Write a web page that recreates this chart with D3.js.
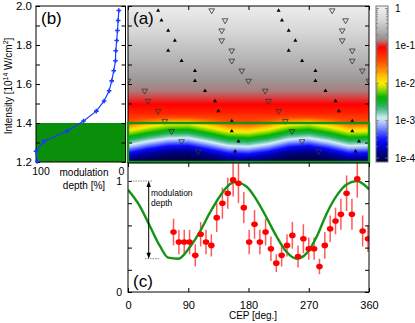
<!DOCTYPE html>
<html>
<head>
<meta charset="utf-8">
<script src="https://cdn.jsdelivr.net/npm/d3@7"></script>
<style>
  body { margin: 0; background: #fff; }
  svg { display: block; font-family: "Liberation Sans", Arial, sans-serif; }
</style>
</head>
<body>
<svg width="415" height="323"></svg>
<script>
// ---- axis ticks / labels ----
const cepTicks = [0, 90, 180, 270, 360];
const intensityTicks = [1.2, 1.3, 1.4, 1.5, 1.6, 1.7, 1.8, 1.9, 2.0];
const intensityLabels = [1.2, 1.4, 1.6, 1.8, 2.0];
const modTicks = [0, 0.2, 0.4, 0.6, 0.8, 1.0];
const modLabels = [0, 1];
const depthLabels = [100, 0];
const cbDecades = [-4, -3, -2, -1, 0];
const cbLabels = ["1e-4", "1e-3", "1e-2", "1e-1", "1"];

// ---- panel (b): modulation depth vs intensity ----
const scanIntensity = [1.203, 1.255, 1.306, 1.358, 1.410, 1.461, 1.513, 1.565, 1.616, 1.668, 1.719, 1.771, 1.823, 1.874, 1.926, 1.977];
const modDepth = [98.5, 100, 91.0, 65.5, 46.9, 32.6, 23.9, 18.3, 15.4, 13.1, 11.2, 10.9, 9.8, 9.0, 8.2, 7.5];

// ---- panel (a): peak positions (CEP, repeated every 180 deg) ----
const peakIntensity = [1.977, 1.926, 1.874, 1.823, 1.771, 1.719, 1.668, 1.616, 1.565, 1.513, 1.461, 1.410, 1.358, 1.306, 1.255];
const peakUpCep = [45, 50, 60, 70, 60, 80, 100, 100, 115, 130, 135, 155, 155, 165, 160];
const peakDownCep = [125, 145, 140, 140, 155, 155, 170, 180, 205, 210, 225, 235, 245, 260, 285];

// ---- panel (a): yield map (log10), profile along intensity + CEP shift ----
const heatIntensity = [1.20, 1.22, 1.24, 1.26, 1.28, 1.30, 1.32, 1.34, 1.36, 1.38, 1.40, 1.42, 1.45, 1.50, 1.55, 1.60, 1.65, 1.70, 1.75, 1.80, 1.85, 1.90, 1.95, 2.00];
const heatLog = [-4.05, -3.95, -3.8, -3.55, -3.25, -2.95, -2.68, -2.42, -2.2, -1.95, -1.65, -1.42, -1.2, -1.02, -0.9, -0.8, -0.71, -0.62, -0.53, -0.44, -0.34, -0.23, -0.12, -0.02];
const shiftCep = [0, 30, 60, 90, 120, 150, 180, 210, 240, 270, 300, 330, 360];
const heatShift = [0.015, -0.005, -0.020, -0.022, -0.003, 0.018, 0.022, 0.008, -0.015, -0.022, -0.005, 0.018, 0.015];
// the CEP modulation is only visible inside the green box
const shiftWeightIntensity = [1.2, 1.40, 1.44, 2.0];
const shiftWeight = [1, 1, 0, 0];

// colour map (log10 yield)
const cbLog = [-4.1, -3.79, -3.52, -3.3, -3.09, -2.93, -2.77, -2.58, -2.37, -2.18, -2.02, -1.86, -1.65, -1.38, -1.03, -0.95, -0.86, -0.76, -0.58, -0.31, 0, 0.1];
const cbColor = ["#00003c", "#0000a8", "#0a0aff", "#5064ff", "#a8b8ff", "#d4f0f0", "#70c8b0", "#20b050", "#00b400", "#90d800", "#f4f000", "#ffd000", "#ff9000", "#ff4400", "#ff0000", "#d84040", "#a88080", "#9c9898", "#b4b4b4", "#d6d6d6", "#eeeeee", "#f4f4f4"];

// ---- panel (c): measured modulation + calculation ----
const dataCep = [68, 76, 84, 92, 100.5, 108.5, 116.5, 124.5, 132.5, 141, 149, 157, 165, 173, 181, 189, 197, 205.5, 213.5, 221.5, 229.5, 237.5, 245.5, 254, 262, 270, 278, 286, 294, 302, 310, 318, 326.5, 334.5, 342.5, 350.5, 358.5];
const dataVal = [0.54, 0.45, 0.45, 0.45, 0.33, 0.52, 0.45, 0.42, 0.67, 0.80, 0.89, 1.01, 0.98, 0.76, 0.45, 0.61, 0.45, 0.54, 0.39, 0.26, 0.33, 0.42, 0.51, 0.32, 0.48, 0.39, 0.39, 0.23, 0.42, 0.57, 0.64, 0.70, 0.89, 0.70, 1.02, 0.55, 0.48];
const dataErr = [0.12, 0.11, 0.11, 0.11, 0.10, 0.11, 0.11, 0.10, 0.13, 0.14, 0.14, 0.15, 0.18, 0.14, 0.11, 0.13, 0.11, 0.12, 0.11, 0.08, 0.10, 0.10, 0.12, 0.10, 0.13, 0.10, 0.10, 0.07, 0.12, 0.12, 0.12, 0.14, 0.16, 0.14, 0.17, 0.14, 0.12];
const fitCep = [0, 18, 33, 48, 60, 75, 93, 107, 122, 137, 152, 160, 177, 192, 207, 222, 237, 252, 267, 282, 297, 312, 327, 342, 360];
const fitVal = [0.92, 0.77, 0.59, 0.41, 0.31, 0.30, 0.41, 0.54, 0.71, 0.86, 0.97, 0.99, 0.95, 0.83, 0.67, 0.50, 0.36, 0.30, 0.35, 0.50, 0.71, 0.87, 0.97, 1.00, 0.925];

const svg = d3.select("svg");
const green = "#149414";

// scales
const xCep = d3.scaleLinear().domain([0, 360]).range([128, 369]);
const yInt = d3.scaleLinear().domain([1.2, 2.0]).range([162, 6]);
const xDepth = d3.scaleLinear().domain([100, 0]).range([36, 125.5]);
const yMod = d3.scaleLinear().domain([0, 1]).range([292, 181]);
const cbY = d3.scaleLinear().domain([-4, 0]).range([158, 8.5]);
const colorOf = d3.scaleLinear().domain(cbLog).range(cbColor).interpolate(d3.interpolateRgb).clamp(true);

function tickAxis(axis, x, y) {
  const g = svg.append("g").attr("transform", `translate(${x},${y})`).call(axis);
  g.select(".domain").remove();
  g.attr("font-family", null).attr("font-size", 11);
  g.selectAll("text").attr("fill", "#000");
  return g;
}

// ================= panel (a) heat map =================
const hx = 128, hy = 6, hw = 241, hh = 156;
const canvas = document.createElement("canvas");
canvas.width = hw; canvas.height = hh;
const ctx = canvas.getContext("2d");
const img = ctx.createImageData(hw, hh);
const shiftAt = d3.scaleLinear().domain(shiftCep).range(heatShift);
const weightAt = d3.scaleLinear().domain(shiftWeightIntensity).range(shiftWeight).clamp(true);
const logAt = d3.scaleLinear().domain(heatIntensity).range(heatLog).clamp(true);
for (let py = 0; py < hh; py++) {
  const inten = yInt.invert(hy + py + 0.5);
  const w = weightAt(inten);
  for (let px = 0; px < hw; px++) {
    const cep = xCep.invert(hx + px + 0.5);
    const c = d3.rgb(colorOf(logAt(inten + w * shiftAt(cep))));
    const k = (py * hw + px) * 4;
    img.data[k] = c.r; img.data[k + 1] = c.g; img.data[k + 2] = c.b; img.data[k + 3] = 255;
  }
}
ctx.putImageData(img, 0, 0);
svg.append("image")
  .attr("x", hx).attr("y", hy).attr("width", hw).attr("height", hh)
  .attr("preserveAspectRatio", "none")
  .attr("href", canvas.toDataURL());

// peak markers
const upSym = d3.symbol().type(d3.symbolTriangle).size(7)();
const downSym = d3.symbol().type(d3.symbolTriangle).size(14)();
const peaksUp = [], peaksDown = [];
peakIntensity.forEach((inten, i) => {
  [peakUpCep[i], peakUpCep[i] + 180, peakUpCep[i] - 180]
    .filter(c => c >= 0 && c <= 360).forEach(c => peaksUp.push([c, inten]));
  [peakDownCep[i], peakDownCep[i] + 180, peakDownCep[i] - 180]
    .filter(c => c >= 0 && c <= 360).forEach(c => peaksDown.push([c, inten]));
});
svg.append("clipPath").attr("id", "aclip")
  .append("rect").attr("x", hx).attr("y", hy).attr("width", hw).attr("height", hh);
const aMarks = svg.append("g").attr("clip-path", "url(#aclip)");
aMarks.selectAll(".up").data(peaksUp).enter().append("path")
  .attr("d", upSym)
  .attr("transform", d => `translate(${xCep(d[0])},${yInt(d[1])})`)
  .attr("fill", "#000");
aMarks.selectAll(".down").data(peaksDown).enter().append("path")
  .attr("d", downSym)
  .attr("transform", d => `translate(${xCep(d[0])},${yInt(d[1])}) rotate(180)`)
  .attr("fill", "none").attr("stroke", "#333").attr("stroke-width", 0.8);

svg.append("rect").attr("x", hx).attr("y", hy).attr("width", hw).attr("height", hh)
  .attr("fill", "none").attr("stroke", "#000");
tickAxis(d3.axisLeft(yInt).tickValues(intensityTicks).tickSizeInner(-4).tickSizeOuter(0).tickFormat(""), hx, 0);
tickAxis(d3.axisRight(yInt).tickValues(intensityTicks).tickSizeInner(-4).tickSizeOuter(0).tickFormat(""), hx + hw, 0);
tickAxis(d3.axisTop(xCep).tickValues(cepTicks).tickSizeInner(-4).tickSizeOuter(0).tickFormat(""), 0, hy);
tickAxis(d3.axisBottom(xCep).tickValues(cepTicks).tickSizeInner(-4).tickSizeOuter(0).tickFormat(""), 0, hy + hh);

// green box (intensity range of panel b fill)
svg.append("rect")
  .attr("x", hx).attr("y", yInt(1.4))
  .attr("width", hw).attr("height", yInt(1.2) - yInt(1.4))
  .attr("fill", "none").attr("stroke", green).attr("stroke-width", 2.4);

svg.append("text").attr("x", 133).attr("y", 24).attr("font-size", 17).text("(a)");

// ================= colour bar =================
const defs = svg.append("defs");
const grad = defs.append("linearGradient").attr("id", "cbgrad")
  .attr("x1", 0).attr("y1", 0).attr("x2", 0).attr("y2", 1);
grad.selectAll("stop").data(d3.range(0, 81)).enter().append("stop")
  .attr("offset", i => i / 80)
  .attr("stop-color", i => colorOf(cbY.invert(6 + i / 80 * 156)));
svg.append("rect").attr("x", 376).attr("y", 6).attr("width", 12).attr("height", 156)
  .attr("fill", "url(#cbgrad)").attr("stroke", "#777").attr("stroke-width", 1);
const cbTicks = [];
cbDecades.forEach(d => {
  if (d < 0) d3.range(1, 10).forEach(k => cbTicks.push({ v: d + Math.log10(k), major: k === 1 }));
  else cbTicks.push({ v: 0, major: true });
});
svg.append("g").selectAll("line").data(cbTicks).enter().append("line")
  .attr("x1", 376).attr("x2", d => 376 + (d.major ? 3 : 2))
  .attr("y1", d => cbY(d.v)).attr("y2", d => cbY(d.v))
  .attr("stroke", "#777").attr("stroke-width", 0.8);
svg.append("g").selectAll("line").data(cbTicks).enter().append("line")
  .attr("x1", 388).attr("x2", d => 388 - (d.major ? 3 : 2))
  .attr("y1", d => cbY(d.v)).attr("y2", d => cbY(d.v))
  .attr("stroke", "#777").attr("stroke-width", 0.8);
svg.append("g").selectAll("text").data(cbDecades).enter().append("text")
  .attr("x", 395).attr("y", d => cbY(d)).attr("dy", "0.35em")
  .attr("font-size", 10).text((d, i) => cbLabels[i]);

// ================= panel (b) =================
const bx0 = xDepth(100), bx1 = xDepth(0);
svg.append("rect")
  .attr("x", bx0).attr("y", yInt(1.4))
  .attr("width", bx1 - bx0).attr("height", yInt(1.2) - yInt(1.4))
  .attr("fill", "#0a8f0a");
svg.append("rect").attr("x", bx0).attr("y", yInt(2.0))
  .attr("width", bx1 - bx0).attr("height", yInt(1.2) - yInt(2.0))
  .attr("fill", "none").attr("stroke", "#000");
tickAxis(d3.axisLeft(yInt).tickValues(intensityTicks).tickSizeInner(-4).tickSizeOuter(0).tickPadding(4)
  .tickFormat(d => intensityLabels.includes(d) ? d3.format(".1f")(d) : ""), bx0, 0)
  .attr("font-size", 11.5);
tickAxis(d3.axisRight(yInt).tickValues(intensityTicks).tickSizeInner(-4).tickSizeOuter(0).tickFormat(""), bx1, 0);

const bLine = d3.line().x((d, i) => xDepth(modDepth[i])).y(d => yInt(d));
svg.append("path").datum(scanIntensity)
  .attr("d", bLine).attr("fill", "none").attr("stroke", "#1a3cff").attr("stroke-width", 1.2);
svg.append("g").selectAll("path").data(scanIntensity).enter().append("path")
  .attr("d", d3.symbol().type(d3.symbolCross).size(12)())
  .attr("transform", (d, i) => `translate(${xDepth(modDepth[i])},${yInt(d)})`)
  .attr("fill", "#1a3cff");

svg.append("text").attr("x", 41).attr("y", 24).attr("font-size", 17).text("(b)");
svg.append("g").selectAll("text").data(depthLabels).enter().append("text")
  .attr("x", d => d === 100 ? 41 : 121.5).attr("y", 171).attr("dy", "0.35em")
  .attr("text-anchor", "middle").attr("font-size", 10.5).text(d => d);
svg.append("text").attr("x", 84).attr("y", 172.5).attr("dy", "0.35em")
  .attr("text-anchor", "middle").attr("font-size", 10).text("modulation");
svg.append("text").attr("x", 84).attr("y", 185.5).attr("dy", "0.35em")
  .attr("text-anchor", "middle").attr("font-size", 10).text("depth [%]");

const yTitle = svg.append("text")
  .attr("transform", "translate(12,86) rotate(-90)")
  .attr("text-anchor", "middle").attr("font-size", 10);
yTitle.append("tspan").text("Intensity [10");
yTitle.append("tspan").attr("dy", -4).attr("font-size", 7).text("14");
yTitle.append("tspan").attr("dy", 4).text(" W/cm");
yTitle.append("tspan").attr("dy", -4).attr("font-size", 7).text("2");
yTitle.append("tspan").attr("dy", 4).text("]");

// ================= panel (c) =================
const cTop = 163, cBottom = yMod(0);
svg.append("clipPath").attr("id", "cclip")
  .append("rect").attr("x", 128).attr("y", cTop).attr("width", 241).attr("height", cBottom - cTop);

const cMarks = svg.append("g").attr("clip-path", "url(#cclip)");
const pts = dataCep.map((c, i) => ({ c: c, v: dataVal[i], e: dataErr[i] }));
cMarks.selectAll("line.err").data(pts).enter().append("line")
  .attr("x1", d => xCep(d.c)).attr("x2", d => xCep(d.c))
  .attr("y1", d => yMod(d.v - d.e)).attr("y2", d => yMod(d.v + d.e))
  .attr("stroke", "#ff3030").attr("stroke-opacity", 0.8).attr("stroke-width", 1.5);

const fitLine = d3.line().x((d, i) => xCep(fitCep[i])).y(d => yMod(d)).curve(d3.curveMonotoneX);
cMarks.append("path").datum(fitVal)
  .attr("d", fitLine).attr("fill", "none").attr("stroke", green).attr("stroke-width", 2.4);

cMarks.selectAll("ellipse").data(pts).enter().append("ellipse")
  .attr("cx", d => xCep(d.c)).attr("cy", d => yMod(d.v))
  .attr("rx", 3.3).attr("ry", 2.8).attr("fill", "#ff0000");

svg.append("rect").attr("x", 128).attr("y", cTop).attr("width", 241).attr("height", cBottom - cTop)
  .attr("fill", "none").attr("stroke", "#000");
tickAxis(d3.axisBottom(xCep).tickValues(cepTicks).tickSizeInner(-4).tickSizeOuter(0).tickPadding(9), 0, cBottom);
tickAxis(d3.axisTop(xCep).tickValues(cepTicks).tickSizeInner(-4).tickSizeOuter(0).tickFormat(""), 0, cTop);
tickAxis(d3.axisLeft(yMod).tickValues(modTicks).tickSizeInner(-4).tickSizeOuter(0).tickPadding(6)
  .tickFormat(d => modLabels.includes(d) ? d : ""), 128, 0)
  .attr("font-size", 10.5);
tickAxis(d3.axisRight(yMod).tickValues(modTicks).tickSizeInner(-4).tickSizeOuter(0).tickFormat(""), 369, 0);

svg.append("text").attr("x", 253).attr("y", 319).attr("text-anchor", "middle")
  .attr("font-size", 10).text("CEP [deg.]");
svg.append("text").attr("x", 133).attr("y", 287).attr("font-size", 17).text("(c)");

// modulation depth annotation
const fMax = d3.max(fitVal), fMin = d3.min(fitVal);
svg.append("line").attr("x1", 128).attr("x2", 153).attr("y1", yMod(fMax)).attr("y2", yMod(fMax))
  .attr("stroke", "#888").attr("stroke-dasharray", "1.5,1");
svg.append("line").attr("x1", 145).attr("x2", 160).attr("y1", yMod(fMin)).attr("y2", yMod(fMin))
  .attr("stroke", "#888").attr("stroke-dasharray", "1.5,1");
svg.append("line").attr("x1", 148.7).attr("x2", 148.7)
  .attr("y1", yMod(fMax) + 1).attr("y2", yMod(fMin) - 1)
  .attr("stroke", "#000").attr("stroke-width", 1);
svg.append("path")
  .attr("d", `M148.7,${yMod(fMax)} l-2.2,6 l4.4,0 Z M148.7,${yMod(fMin)} l-2.2,-6 l4.4,0 Z`)
  .attr("fill", "#000");
svg.append("text").attr("x", 151).attr("y", 193.5).attr("dy", "0.35em")
  .attr("font-size", 8.5).text("modulation");
svg.append("text").attr("x", 151).attr("y", 203.5).attr("dy", "0.35em")
  .attr("font-size", 8.5).text("depth");
</script>
</body>
</html>
